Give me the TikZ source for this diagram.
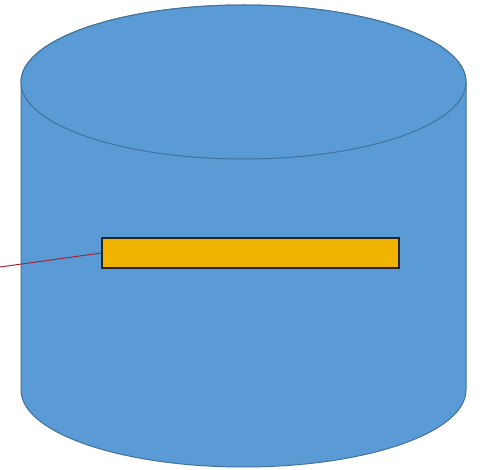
\documentclass[tikz,border=0pt]{standalone}
\begin{document}
\begin{tikzpicture}[x=1pt,y=-1pt,
  cylfill/.style={fill=cylblue,draw=cyledge,line width=1pt},
  barbox/.style={fill=baryellow,draw=black!85,line width=1.2pt,minimum width=297pt,minimum height=30pt,inner sep=0pt},
  wire/.style={draw=wirered,line width=1pt}]
\definecolor{cylblue}{HTML}{5B9BD5}
\definecolor{cyledge}{HTML}{41719C}
\definecolor{baryellow}{HTML}{F0B400}
\definecolor{wirered}{HTML}{A0283A}
\useasboundingbox (0,0) rectangle (480,470);
\fill[white] (0,0) rectangle (480,470);
% body
\path[cylfill] (21,82) -- (21,390) arc[start angle=180,end angle=360,x radius=222.5,y radius=-77] -- (466,82) arc[start angle=0,end angle=180,x radius=222.5,y radius=-77] -- cycle;
% top ellipse
\draw[cylfill] (243.5,82) ellipse[x radius=222.5,y radius=77];
\node[barbox] (bar) at (250.5,253) {};
\coordinate (free) at (0,267);
\draw[wire] (free) -- (bar.west);
\end{tikzpicture}
\end{document}
